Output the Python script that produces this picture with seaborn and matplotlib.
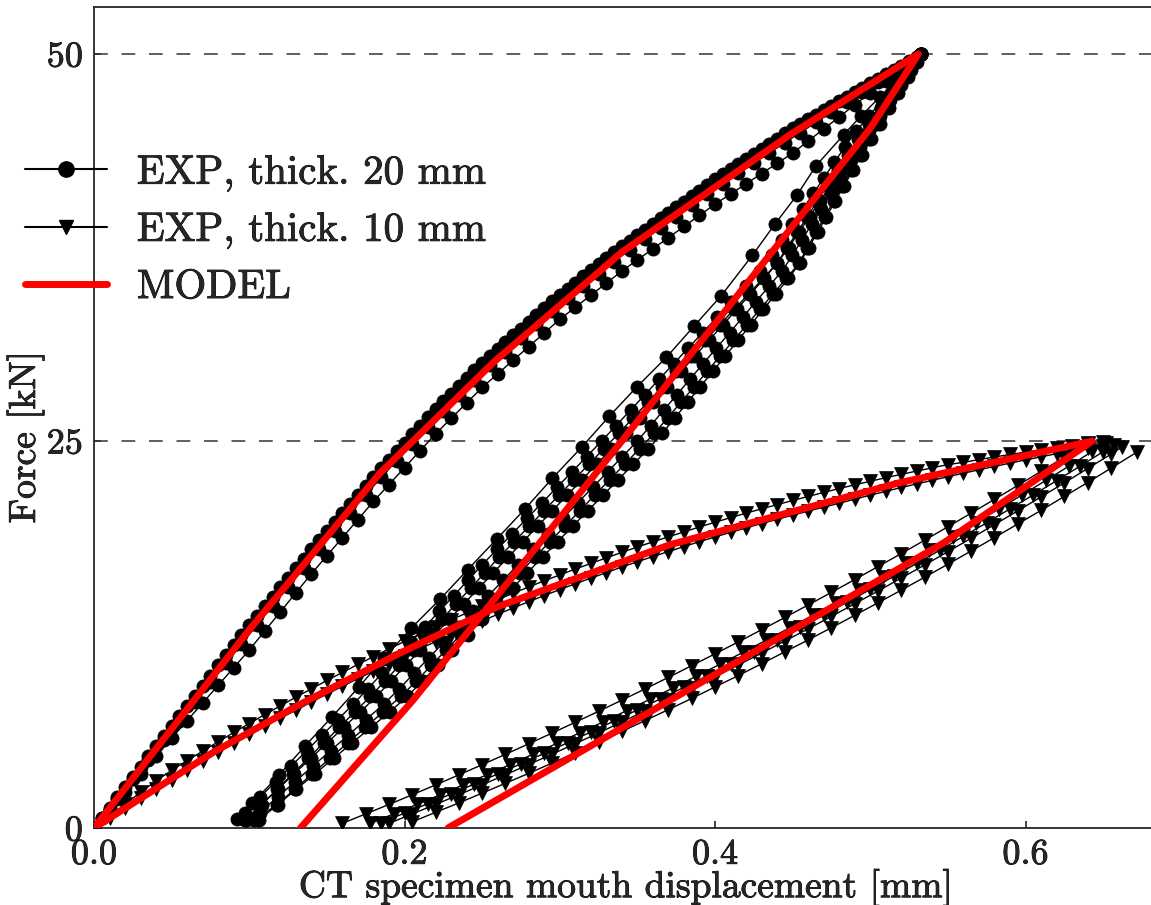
import matplotlib
matplotlib.use("Agg")
import matplotlib.pyplot as plt
import matplotlib.patheffects as pe
from matplotlib.lines import Line2D
import seaborn as sns

# ---------------------------------------------------------------------------
# Data: CT specimen mouth displacement [mm] vs. force [kN]
# ---------------------------------------------------------------------------

# 20 mm specimen, first loading (three recorded passes)
load20a_x = [0.000, 0.005, 0.010, 0.015, 0.020, 0.025, 0.030, 0.035, 0.040, 0.045,
             0.050, 0.055, 0.060, 0.065, 0.070, 0.075, 0.080, 0.085, 0.090, 0.095,
             0.100, 0.105, 0.110, 0.115, 0.120, 0.125, 0.130, 0.135, 0.140, 0.145,
             0.150, 0.155, 0.160, 0.165, 0.170, 0.175, 0.180, 0.185, 0.190, 0.195,
             0.200, 0.205, 0.210, 0.215, 0.220, 0.225, 0.230, 0.235, 0.240, 0.245,
             0.250, 0.255, 0.260, 0.265, 0.270, 0.275, 0.280, 0.285, 0.290, 0.295,
             0.300, 0.305, 0.310, 0.315, 0.320, 0.325, 0.330, 0.335, 0.340, 0.345,
             0.350, 0.355, 0.360, 0.365, 0.370, 0.375, 0.380, 0.385, 0.390, 0.395,
             0.400, 0.405, 0.410, 0.415, 0.420, 0.425, 0.430, 0.435, 0.440, 0.445,
             0.450, 0.455, 0.460, 0.465, 0.470, 0.475, 0.480, 0.485, 0.490, 0.495,
             0.500, 0.505, 0.510, 0.515, 0.520, 0.525, 0.530, 0.533]
load20a_f = [0.0, 0.66, 1.32, 1.98, 2.64, 3.3, 3.96, 4.62, 5.28, 5.94,
             6.6, 7.25, 7.9, 8.55, 9.2, 9.85, 10.5, 11.15, 11.8, 12.45,
             13.1, 13.72, 14.33, 14.95, 15.56, 16.18, 16.79, 17.41, 18.02, 18.61,
             19.19, 19.78, 20.36, 20.95, 21.53, 22.12, 22.7, 23.25, 23.79, 24.34,
             24.88, 25.43, 25.97, 26.52, 27.06, 27.56, 28.06, 28.56, 29.06, 29.56,
             30.06, 30.5, 30.94, 31.38, 31.82, 32.26, 32.7, 33.14, 33.58, 34.02,
             34.46, 34.85, 35.24, 35.63, 36.02, 36.41, 36.8, 37.19, 37.58, 37.94,
             38.3, 38.66, 39.02, 39.38, 39.74, 40.1, 40.46, 40.82, 41.18, 41.54,
             41.9, 42.23, 42.56, 42.89, 43.22, 43.55, 43.88, 44.21, 44.54, 44.87,
             45.2, 45.49, 45.78, 46.07, 46.36, 46.65, 46.94, 47.23, 47.52, 47.81,
             48.1, 48.39, 48.68, 48.97, 49.26, 49.55, 49.84, 50.0]
load20b_x = [0.005, 0.015, 0.025, 0.035, 0.045, 0.055, 0.065, 0.075, 0.085, 0.095,
             0.105, 0.115, 0.125, 0.135, 0.145, 0.155, 0.165, 0.175, 0.185, 0.195,
             0.205, 0.215, 0.225, 0.235, 0.245, 0.255, 0.265, 0.275, 0.285, 0.295,
             0.305, 0.315, 0.325, 0.335, 0.345, 0.355, 0.365, 0.375, 0.385, 0.395,
             0.405, 0.415, 0.425, 0.435, 0.445, 0.455, 0.465, 0.475, 0.485, 0.495,
             0.505, 0.515, 0.525, 0.533]
load20b_f = [0.63, 1.89, 3.15, 4.41, 5.67, 6.92, 8.16, 9.4, 10.64, 11.88,
             13.12, 14.35, 15.58, 16.81, 18.01, 19.18, 20.35, 21.52, 22.65, 23.74,
             24.83, 25.92, 26.96, 27.96, 28.96, 29.9, 30.78, 31.66, 32.54, 33.42,
             34.25, 35.03, 35.81, 36.59, 37.34, 38.06, 38.78, 39.5, 40.22, 40.94,
             41.63, 42.29, 42.95, 43.61, 44.27, 44.93, 45.58, 46.24, 46.89, 47.55,
             48.2, 48.86, 49.51, 50.0]
load20c_x = [0.00, 0.01, 0.02, 0.03, 0.04, 0.05, 0.06, 0.07, 0.08, 0.09,
             0.10, 0.11, 0.12, 0.13, 0.14, 0.15, 0.16, 0.17, 0.18, 0.19,
             0.20, 0.21, 0.22, 0.23, 0.24, 0.25, 0.26, 0.27, 0.28, 0.29,
             0.30, 0.31, 0.32, 0.33, 0.34, 0.35, 0.36, 0.37, 0.38, 0.39,
             0.40, 0.41, 0.42, 0.43, 0.44, 0.45, 0.46, 0.47, 0.48, 0.49,
             0.50, 0.51, 0.52, 0.53, 0.533]
load20c_f = [0.0, 1.16, 2.32, 3.48, 4.64, 5.8, 6.94, 8.08, 9.22, 10.36,
             11.5, 12.73, 13.96, 15.19, 16.42, 17.59, 18.76, 19.93, 21.1, 22.19,
             23.28, 24.37, 25.46, 26.46, 27.46, 28.46, 29.34, 30.22, 31.1, 31.98,
             32.86, 33.64, 34.42, 35.2, 35.98, 36.7, 37.42, 38.14, 38.86, 39.58,
             40.3, 40.96, 41.62, 42.28, 42.94, 43.6, 44.38, 45.16, 45.94, 46.72,
             47.5, 48.28, 49.06, 49.79, 50.0]

# 20 mm specimen, first unloading (sparse record)
unl20_x = [0.533, 0.520, 0.506, 0.494, 0.483, 0.4652, 0.4529, 0.4385, 0.4241, 0.4041,
           0.3863, 0.3686, 0.3497, 0.3319, 0.3141, 0.2953, 0.2775, 0.2597, 0.2408, 0.2231,
           0.2042, 0.187, 0.1705, 0.1535, 0.136, 0.119, 0.102, 0.092]
unl20_f = [50.0, 48.6, 47.2, 46.0, 44.8, 42.8, 40.9, 39.0, 37.0, 34.4,
           32.4, 30.4, 28.5, 26.6, 24.6, 22.6, 20.6, 18.7, 16.7, 14.8,
           12.9, 11.0, 9.1, 7.2, 5.3, 3.4, 1.6, 0.6]

# 20 mm specimen, further cycles: displacement recorded at fixed force levels
cyc20_f_int = [1, 2, 3, 4, 5, 6, 7, 8, 9, 10,
               11, 12, 13, 14, 15, 16, 17, 18, 19, 20,
               21, 22, 23, 24, 25, 26, 27, 28, 29, 30,
               31, 32, 33, 34, 35, 36, 37, 38, 39, 40,
               41, 42, 43, 44, 45, 46, 47, 48, 49, 50]
cyc20_f_half = [0.5, 1.5, 2.5, 3.5, 4.5, 5.5, 6.5, 7.5, 8.5, 9.5,
                10.5, 11.5, 12.5, 13.5, 14.5, 15.5, 16.5, 17.5, 18.5, 19.5,
                20.5, 21.5, 22.5, 23.5, 24.5, 25.5, 26.5, 27.5, 28.5, 29.5,
                30.5, 31.5, 32.5, 33.5, 34.5, 35.5, 36.5, 37.5, 38.5, 39.5,
                40.5, 41.5, 42.5, 43.5, 44.5, 45.5, 46.5, 47.5, 48.5, 49.5, 50.0]
cyc20a_x = [0.097, 0.107, 0.117, 0.127, 0.137, 0.147, 0.157, 0.167, 0.1764, 0.1856,
            0.1948, 0.204, 0.2132, 0.2224, 0.2316, 0.2408, 0.25, 0.2596, 0.2693, 0.2789,
            0.2885, 0.2981, 0.3078, 0.3174, 0.327, 0.3363, 0.3456, 0.3549, 0.3641, 0.3734,
            0.3827, 0.392, 0.4013, 0.4106, 0.4199, 0.4291, 0.4364, 0.4431, 0.4499, 0.4566,
            0.4634, 0.4701, 0.4769, 0.4836, 0.4907, 0.4992, 0.5076, 0.5161, 0.5245, 0.533]
cyc20b_x = [0.097, 0.1076, 0.1183, 0.1289, 0.1396, 0.1502, 0.1608, 0.1715, 0.1819, 0.1913,
            0.2007, 0.2102, 0.2196, 0.229, 0.2384, 0.2479, 0.2573, 0.2668, 0.2763, 0.2858,
            0.2953, 0.3048, 0.3143, 0.3238, 0.3333, 0.3425, 0.3514, 0.3603, 0.3693, 0.3782,
            0.3871, 0.3961, 0.405, 0.4139, 0.4228, 0.4318, 0.44, 0.4465, 0.453, 0.4595,
            0.466, 0.4725, 0.479, 0.4855, 0.492, 0.4993, 0.5068, 0.5143, 0.5218, 0.5293, 0.533]
cyc20c_x = [0.1068, 0.1182, 0.1296, 0.141, 0.1524, 0.1638, 0.1752, 0.1866, 0.1967, 0.2062,
            0.2158, 0.2253, 0.2349, 0.2444, 0.2539, 0.2635, 0.273, 0.2826, 0.2923, 0.3019,
            0.3115, 0.3211, 0.3308, 0.3404, 0.35, 0.3585, 0.367, 0.3755, 0.3839, 0.3924,
            0.4009, 0.4094, 0.4179, 0.4263, 0.4348, 0.4433, 0.4499, 0.4561, 0.4622, 0.4684,
            0.4746, 0.4807, 0.4869, 0.4931, 0.4993, 0.5061, 0.5128, 0.5195, 0.5263, 0.533]
cyc20d_x = [0.106, 0.1182, 0.1303, 0.1423, 0.1543, 0.1663, 0.1784, 0.1904, 0.2019, 0.2116,
            0.2213, 0.2309, 0.2406, 0.2502, 0.2599, 0.2696, 0.2792, 0.2889, 0.2986, 0.3084,
            0.3181, 0.3279, 0.3376, 0.3474, 0.3571, 0.3661, 0.3742, 0.3823, 0.3904, 0.3986,
            0.4067, 0.4148, 0.4229, 0.4311, 0.4392, 0.4473, 0.4547, 0.4604, 0.4661, 0.4718,
            0.4775, 0.4832, 0.4889, 0.4946, 0.5003, 0.5062, 0.5121, 0.5181, 0.5241, 0.53, 0.533]
cyc20e_x = [0.098, 0.108, 0.118, 0.128, 0.138, 0.148, 0.158, 0.168, 0.178, 0.1874,
            0.1966, 0.2058, 0.215, 0.2242, 0.2334, 0.2426, 0.2518, 0.261, 0.2706, 0.2803,
            0.2899, 0.2995, 0.3091, 0.3188, 0.3284, 0.338, 0.3473, 0.3566, 0.3659, 0.3751,
            0.3844, 0.3937, 0.403, 0.4123, 0.4216, 0.4309, 0.4401, 0.4474, 0.4541, 0.4609,
            0.4676, 0.4744, 0.4811, 0.4879, 0.4946, 0.4997, 0.5067, 0.5136, 0.5206, 0.5275, 0.533]
cyc20f_x = [0.103, 0.1178, 0.1292, 0.1406, 0.152, 0.1634, 0.1748, 0.1862, 0.1976, 0.2077,
            0.2172, 0.2268, 0.2363, 0.2459, 0.2554, 0.2649, 0.2745, 0.284, 0.2936, 0.3033,
            0.3129, 0.3225, 0.3321, 0.3418, 0.3514, 0.361, 0.3695, 0.378, 0.3865, 0.3949,
            0.4034, 0.4119, 0.4204, 0.4289, 0.4373, 0.4458, 0.4543, 0.4594, 0.4651, 0.4707,
            0.4764, 0.4821, 0.4877, 0.4934, 0.4991, 0.5043, 0.5101, 0.5158, 0.5215, 0.5273, 0.533]

# 10 mm specimen, two loading passes on a common displacement grid
load10_x = [0.00, 0.01, 0.02, 0.03, 0.04, 0.05, 0.06, 0.07, 0.08, 0.09,
            0.10, 0.11, 0.12, 0.13, 0.14, 0.15, 0.16, 0.17, 0.18, 0.19,
            0.20, 0.21, 0.22, 0.23, 0.24, 0.25, 0.26, 0.27, 0.28, 0.29,
            0.30, 0.31, 0.32, 0.33, 0.34, 0.35, 0.36, 0.37, 0.38, 0.39,
            0.40, 0.41, 0.42, 0.43, 0.44, 0.45, 0.46, 0.47, 0.48, 0.49,
            0.50, 0.51, 0.52, 0.53, 0.54, 0.55, 0.56, 0.57, 0.58, 0.59,
            0.60, 0.61, 0.62, 0.63, 0.64, 0.65]
load10a_f = [0.0, 0.78, 1.54, 2.3, 3.04, 3.73, 4.35, 4.97, 5.57, 6.17,
             6.75, 7.33, 7.89, 8.45, 8.99, 9.53, 10.05, 10.57, 11.07, 11.57,
             12.05, 12.53, 12.99, 13.45, 13.89, 14.33, 14.75, 15.17, 15.57, 15.97,
             16.35, 16.73, 17.09, 17.45, 17.81, 18.15, 18.49, 18.81, 19.13, 19.45,
             19.75, 20.05, 20.34, 20.62, 20.89, 21.16, 21.42, 21.68, 21.93, 22.17,
             22.4, 22.63, 22.85, 23.06, 23.27, 23.48, 23.62, 23.8, 23.97, 24.13,
             24.28, 24.43, 24.56, 24.68, 24.8, 24.92]
load10b_f = [0.0, 0.65, 1.28, 1.91, 2.52, 3.13, 3.73, 4.33, 4.91, 5.49,
             6.05, 6.6, 7.1, 7.6, 8.14, 8.65, 9.15, 9.65, 10.14, 10.62,
             11.1, 11.58, 12.04, 12.5, 12.94, 13.38, 13.8, 14.22, 14.62, 15.02,
             15.4, 15.78, 16.14, 16.5, 16.86, 17.2, 17.54, 17.86, 18.18, 18.5,
             18.8, 19.1, 19.39, 19.67, 19.94, 20.21, 20.47, 20.73, 20.98, 21.25,
             21.5, 21.75, 22.0, 22.23, 22.46, 22.7, 22.92, 23.14, 23.36, 23.57,
             23.78, 23.98, 24.18, 24.36, 24.54, 24.7]

# 10 mm specimen, unloading / reloading cycles
cyc10a_x = [0.160, 0.175, 0.190, 0.205, 0.220, 0.235, 0.250, 0.265, 0.280, 0.295,
            0.310, 0.325, 0.340, 0.355, 0.370, 0.385, 0.400, 0.415, 0.430, 0.445,
            0.460, 0.475, 0.490, 0.505, 0.520, 0.535, 0.550, 0.565, 0.580, 0.595,
            0.610, 0.625, 0.640]
cyc10a_f = [0.3, 0.91, 1.52, 2.15, 2.78, 3.43, 4.09, 4.76, 5.44, 6.13,
            6.83, 7.54, 8.26, 8.99, 9.73, 10.49, 11.25, 12.02, 12.81, 13.6,
            14.41, 15.22, 16.05, 16.89, 17.73, 18.59, 19.46, 20.34, 21.23, 22.13,
            23.04, 23.96, 24.89]
cyc10b_x = [0.178, 0.193, 0.208, 0.223, 0.238, 0.253, 0.268, 0.283, 0.298, 0.313,
            0.328, 0.343, 0.358, 0.373, 0.388, 0.403, 0.418, 0.433, 0.448, 0.463,
            0.478, 0.493, 0.508, 0.523, 0.538, 0.553, 0.568, 0.583, 0.598, 0.613,
            0.628, 0.643, 0.652]
cyc10b_f = [0.3, 0.91, 1.52, 2.15, 2.79, 3.44, 4.1, 4.78, 5.46, 6.16,
            6.86, 7.58, 8.31, 9.05, 9.81, 10.57, 11.35, 12.13, 12.93, 13.74,
            14.56, 15.39, 16.23, 17.09, 17.95, 18.83, 19.72, 20.62, 21.53, 22.45,
            23.38, 24.33, 24.9]
cyc10c_x = [0.185, 0.200, 0.215, 0.230, 0.245, 0.260, 0.275, 0.290, 0.305, 0.320,
            0.335, 0.350, 0.365, 0.380, 0.395, 0.410, 0.425, 0.440, 0.455, 0.470,
            0.485, 0.500, 0.515, 0.530, 0.545, 0.560, 0.575, 0.590, 0.605, 0.620,
            0.635, 0.650, 0.657]
cyc10c_f = [0.35, 0.96, 1.57, 2.2, 2.84, 3.49, 4.15, 4.82, 5.51, 6.2,
            6.91, 7.63, 8.35, 9.09, 9.84, 10.61, 11.38, 12.16, 12.96, 13.76,
            14.58, 15.41, 16.25, 17.1, 17.96, 18.84, 19.72, 20.62, 21.52, 22.44,
            23.37, 24.31, 24.75]
cyc10d_x = [0.190, 0.205, 0.220, 0.235, 0.250, 0.265, 0.280, 0.295, 0.310, 0.325,
            0.340, 0.355, 0.370, 0.385, 0.400, 0.415, 0.430, 0.445, 0.460, 0.475,
            0.490, 0.505, 0.520, 0.535, 0.550, 0.565, 0.580, 0.595, 0.610, 0.625,
            0.640, 0.655, 0.662]
cyc10d_f = [0.3, 0.91, 1.52, 2.15, 2.79, 3.44, 4.1, 4.77, 5.45, 6.14,
            6.85, 7.56, 8.29, 9.02, 9.77, 10.53, 11.3, 12.08, 12.87, 13.67,
            14.49, 15.31, 16.15, 16.99, 17.85, 18.72, 19.6, 20.49, 21.39, 22.3,
            23.22, 24.15, 24.6]
cyc10e_x = [0.205, 0.220, 0.235, 0.250, 0.265, 0.280, 0.295, 0.310, 0.325, 0.340,
            0.355, 0.370, 0.385, 0.400, 0.415, 0.430, 0.445, 0.460, 0.475, 0.490,
            0.505, 0.520, 0.535, 0.550, 0.565, 0.580, 0.595, 0.610, 0.625, 0.640,
            0.655, 0.672]
cyc10e_f = [0.4, 1.01, 1.62, 2.25, 2.89, 3.53, 4.19, 4.86, 5.54, 6.24,
            6.94, 7.65, 8.37, 9.11, 9.85, 10.61, 11.38, 12.15, 12.94, 13.74,
            14.55, 15.37, 16.2, 17.04, 17.9, 18.76, 19.64, 20.52, 21.42, 22.32,
            23.24, 24.3]

# Model: loading up to the peak force, then unloading
model20_x = [0.0, 0.10, 0.184, 0.2575, 0.34, 0.4485, 0.531, 0.50, 0.34, 0.205, 0.133]
model20_f = [0.0, 12.8, 22.9, 30.1, 37.2, 44.8, 50.0, 45.2, 25.0, 8.2, 0.0]
model10_x = [0.0, 0.077, 0.131, 0.197, 0.260, 0.371, 0.5185, 0.643, 0.547, 0.228]
model10_f = [0.0, 4.9, 7.9, 11.3, 14.3, 18.3, 22.3, 25.0, 18.4, 0.0]

peak_levels = [25, 50]
x_ticks = [0.0, 0.2, 0.4, 0.6]
x_tick_labels = ["0.0", "0.2", "0.4", "0.6"]
y_ticks = [0, 25, 50]
y_tick_labels = ["0", "25", "50"]
legend_labels = ["EXP, thick. 20 mm", "EXP, thick. 10 mm", "MODEL"]

# ---------------------------------------------------------------------------
# Style
# ---------------------------------------------------------------------------
sns.set_style("ticks")
plt.rcParams.update({
    "font.family": ["serif"],
    "font.serif": ["cmr10", "DejaVu Serif"],
    "mathtext.fontset": "cm",
    "axes.unicode_minus": False,
    "axes.formatter.use_mathtext": True,
    "axes.linewidth": 1.3,
    "xtick.direction": "in",
    "ytick.direction": "in",
})

W, H = 1151, 905
fig = plt.figure(figsize=(W / 100, H / 100), dpi=100)
x_max = 0.685
y_max = 53.04
ax = fig.add_axes([94 / W, 77 / H, (x_max * 1552.5) / W, 821 / H])


def draw(x, y, **kw):
    sns.lineplot(x=x, y=y, ax=ax, sort=False, estimator=None,
                 legend=False, **kw)


exp20 = dict(color="k", linewidth=1.0, marker="o", markersize=9.5,
             markerfacecolor="k", markeredgecolor="k", markeredgewidth=0.5,
             zorder=3)
exp10 = dict(color="k", linewidth=1.0, marker="v", markersize=10.5,
             markerfacecolor="k", markeredgecolor="k", markeredgewidth=0.5,
             zorder=3)
model = dict(color="#ff0000", linewidth=5.0, zorder=5)

for lvl in peak_levels:
    ax.axhline(lvl, color="#333333", linewidth=1.1, linestyle=(0, (9, 9)),
               zorder=1)

draw(load20c_x, load20c_f, **exp20)
draw(load20b_x, load20b_f, **exp20)
draw(load20a_x, load20a_f, **exp20)
draw(cyc20a_x, cyc20_f_int, **exp20)
draw(cyc20e_x, cyc20_f_half, **exp20)
draw(cyc20b_x, cyc20_f_half, **exp20)
draw(cyc20c_x, cyc20_f_int, **exp20)
draw(cyc20f_x, cyc20_f_half, **exp20)
draw(cyc20d_x, cyc20_f_half, **exp20)
draw(unl20_x, unl20_f, **exp20)

draw(load10_x, load10a_f, **exp10)
draw(load10_x, load10b_f, **exp10)
draw(cyc10a_x, cyc10a_f, **exp10)
draw(cyc10b_x, cyc10b_f, **exp10)
draw(cyc10c_x, cyc10c_f, **exp10)
draw(cyc10d_x, cyc10d_f, **exp10)
draw(cyc10e_x, cyc10e_f, **exp10)

draw(model20_x, model20_f, **model)
draw(model10_x, model10_f, **model)

ax.set_xlim(0, x_max)
ax.set_ylim(0, y_max)
ax.set_xticks(x_ticks)
ax.set_xticklabels(x_tick_labels)
ax.set_yticks(y_ticks)
ax.set_yticklabels(y_tick_labels)
ax.tick_params(axis="both", labelsize=26, length=5, width=1.2, pad=8)
ax.set_xlabel("CT specimen mouth displacement [mm]", fontsize=27)
ax.set_ylabel("Force [kN]", fontsize=27)
ax.xaxis.set_label_coords(0.5, -0.049)
ax.yaxis.set_label_coords(-0.047, 0.476)
for side in ["top", "right", "left", "bottom"]:
    ax.spines[side].set_visible(True)

handles = [
    Line2D([], [], color="k", linewidth=1.5, marker="o", markersize=11),
    Line2D([], [], color="k", linewidth=1.5, marker="v", markersize=10.5),
    Line2D([], [], color="#ff0000", linewidth=5.0),
]
leg = fig.legend(handles, legend_labels, loc="upper left",
                 bbox_to_anchor=(25 / W, 1 - 155 / H), frameon=False,
                 fontsize=29.5, handlelength=2.0, handletextpad=0.73,
                 labelspacing=0.5, borderpad=0, borderaxespad=0, numpoints=1)

# slightly heavier glyphs for all text
stroke = [pe.withStroke(linewidth=0.6, foreground="black")]
texts = (ax.get_xticklabels() + ax.get_yticklabels()
         + [ax.xaxis.label, ax.yaxis.label] + leg.get_texts())
for t in texts:
    t.set_path_effects(stroke)

fig.savefig("out.png", dpi=100)
